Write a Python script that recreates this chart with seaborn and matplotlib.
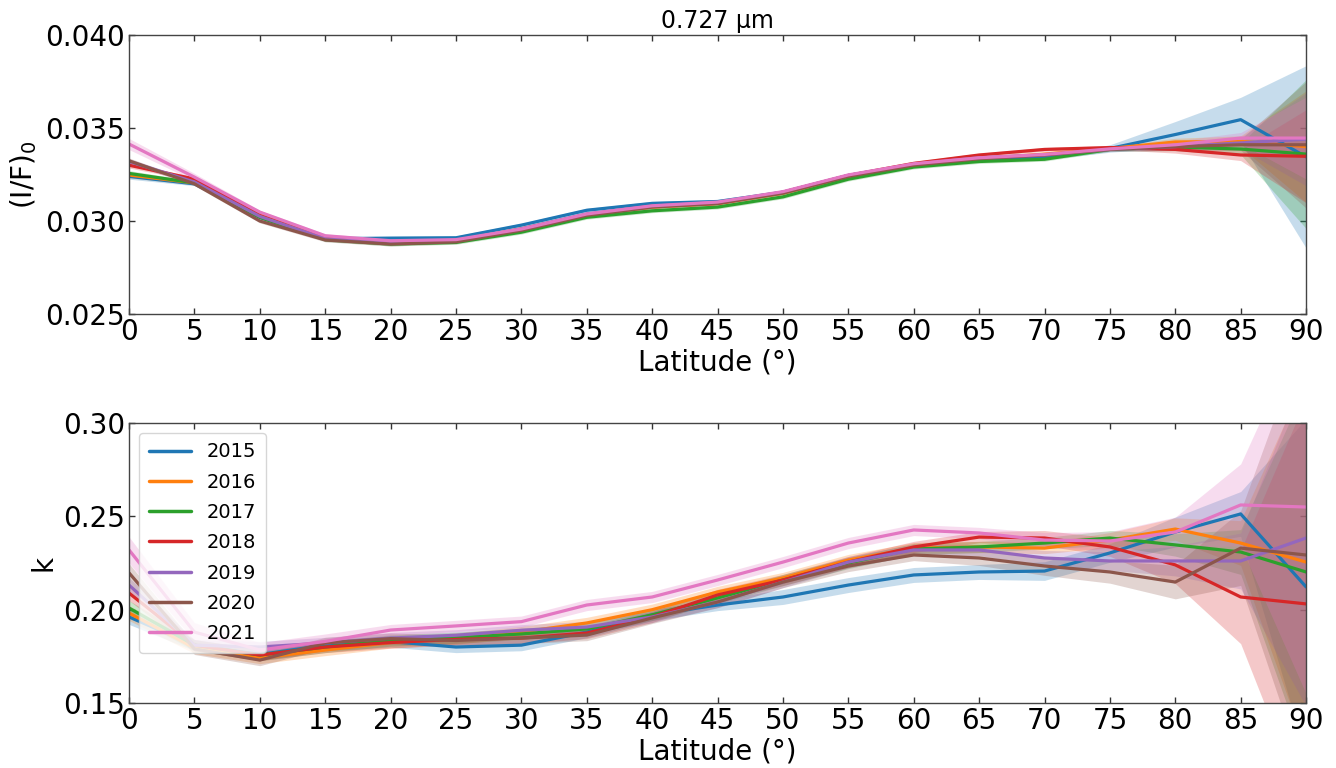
import numpy as np
import pandas as pd
import matplotlib
matplotlib.use("Agg")
import matplotlib.pyplot as plt
import seaborn as sns

latitude = list(range(0, 95, 5))
years = ["2015", "2016", "2017", "2018", "2019", "2020", "2021"]

# (I/F)_0 at 0.727 um
if_2015 = [0.03240, 0.03200, 0.03020, 0.02905, 0.02908, 0.02910, 0.02978, 0.03058, 0.03095, 0.03105, 0.03155, 0.03245, 0.03305, 0.03335, 0.03340, 0.03390, 0.03465, 0.03545, 0.03345]
if_2016 = [0.03247, 0.03205, 0.03045, 0.02910, 0.02885, 0.02893, 0.02958, 0.03035, 0.03075, 0.03095, 0.03150, 0.03240, 0.03300, 0.03335, 0.03360, 0.03390, 0.03425, 0.03428, 0.03400]
if_2017 = [0.03256, 0.03205, 0.03020, 0.02900, 0.02876, 0.02885, 0.02940, 0.03020, 0.03055, 0.03075, 0.03130, 0.03225, 0.03290, 0.03320, 0.03332, 0.03385, 0.03398, 0.03387, 0.03360]
if_2018 = [0.03300, 0.03226, 0.03030, 0.02905, 0.02885, 0.02893, 0.02955, 0.03035, 0.03080, 0.03095, 0.03155, 0.03245, 0.03310, 0.03355, 0.03385, 0.03395, 0.03385, 0.03355, 0.03348]
if_2019 = [0.03320, 0.03210, 0.03025, 0.02905, 0.02885, 0.02893, 0.02958, 0.03038, 0.03080, 0.03100, 0.03155, 0.03245, 0.03305, 0.03340, 0.03355, 0.03385, 0.03400, 0.03420, 0.03440]
if_2020 = [0.03324, 0.03200, 0.03000, 0.02898, 0.02876, 0.02888, 0.02950, 0.03030, 0.03075, 0.03095, 0.03150, 0.03240, 0.03300, 0.03335, 0.03355, 0.03385, 0.03400, 0.03410, 0.03410]
if_2021 = [0.03414, 0.03236, 0.03048, 0.02921, 0.02894, 0.02900, 0.02957, 0.03038, 0.03082, 0.03102, 0.03158, 0.03248, 0.03308, 0.03340, 0.03358, 0.03388, 0.03410, 0.03446, 0.03446]

if_err_2015 = [0.00015, 0.0001, 0.0001, 0.0001, 0.0001, 0.0001, 0.0001, 0.0001, 0.0001, 0.0001, 0.0001, 0.0001, 0.0001, 0.0001, 0.0001, 0.0002, 0.0007, 0.0012, 0.0049]
if_err_2016 = [0.00015, 0.0001, 0.0001, 0.0001, 0.0001, 0.0001, 0.0001, 0.0001, 0.0001, 0.0001, 0.0001, 0.0001, 0.0001, 0.0001, 0.0001, 0.0001, 0.0002, 0.0003, 0.0030]
if_err_2017 = [0.00015, 0.0001, 0.0001, 0.0001, 0.0001, 0.0001, 0.0001, 0.0001, 0.0001, 0.0001, 0.0001, 0.0001, 0.0001, 0.0001, 0.0001, 0.0001, 0.0002, 0.0003, 0.0040]
if_err_2018 = [0.00015, 0.0001, 0.0001, 0.0001, 0.0001, 0.0001, 0.0001, 0.0001, 0.0001, 0.0001, 0.0001, 0.0001, 0.0001, 0.0001, 0.0001, 0.0001, 0.0002, 0.0003, 0.0025]
if_err_2019 = [0.00015, 0.0001, 0.0001, 0.0001, 0.0001, 0.0001, 0.0001, 0.0001, 0.0001, 0.0001, 0.0001, 0.0001, 0.0001, 0.0001, 0.0001, 0.0001, 0.0002, 0.0003, 0.0025]
if_err_2020 = [0.00015, 0.0001, 0.0001, 0.0001, 0.0001, 0.0001, 0.0001, 0.0001, 0.0001, 0.0001, 0.0001, 0.0001, 0.0001, 0.0001, 0.0001, 0.0001, 0.0002, 0.0003, 0.0034]
if_err_2021 = [0.00030, 0.0002, 0.0001, 0.0001, 0.0001, 0.0001, 0.0001, 0.0001, 0.0001, 0.0001, 0.0001, 0.0001, 0.0001, 0.0001, 0.0001, 0.0001, 0.0002, 0.0003, 0.0022]

# k
k_2015 = [0.1961, 0.1810, 0.1760, 0.1810, 0.1829, 0.1800, 0.1810, 0.1880, 0.1972, 0.2025, 0.2068, 0.2132, 0.2186, 0.2202, 0.2207, 0.2304, 0.2416, 0.2513, 0.2122]
k_2016 = [0.1982, 0.1795, 0.1741, 0.1784, 0.1824, 0.1845, 0.1880, 0.1929, 0.2000, 0.2095, 0.2170, 0.2266, 0.2330, 0.2336, 0.2330, 0.2373, 0.2432, 0.2357, 0.2255]
k_2017 = [0.2009, 0.1810, 0.1757, 0.1800, 0.1835, 0.1850, 0.1870, 0.1897, 0.1972, 0.2063, 0.2159, 0.2250, 0.2325, 0.2336, 0.2357, 0.2384, 0.2347, 0.2309, 0.2202]
k_2018 = [0.2089, 0.1810, 0.1757, 0.1800, 0.1824, 0.1841, 0.1848, 0.1875, 0.1961, 0.2079, 0.2159, 0.2255, 0.2336, 0.2389, 0.2384, 0.2336, 0.2240, 0.2068, 0.2031]
k_2019 = [0.2132, 0.1810, 0.1800, 0.1822, 0.1848, 0.1863, 0.1890, 0.1907, 0.1961, 0.2041, 0.2148, 0.2255, 0.2320, 0.2320, 0.2277, 0.2261, 0.2261, 0.2261, 0.2384]
k_2020 = [0.2197, 0.1790, 0.1730, 0.1822, 0.1845, 0.1835, 0.1848, 0.1864, 0.1956, 0.2041, 0.2148, 0.2234, 0.2293, 0.2277, 0.2234, 0.2202, 0.2148, 0.2330, 0.2293]
k_2021 = [0.2320, 0.1880, 0.1784, 0.1830, 0.1891, 0.1913, 0.1936, 0.2025, 0.2068, 0.2159, 0.2255, 0.2357, 0.2427, 0.2411, 0.2373, 0.2368, 0.2416, 0.2561, 0.2550]

k_err_2015 = [0.004, 0.003, 0.003, 0.003, 0.003, 0.003, 0.003, 0.003, 0.003, 0.003, 0.004, 0.004, 0.004, 0.004, 0.005, 0.005, 0.008, 0.012, 0.090]
k_err_2016 = [0.004, 0.003, 0.003, 0.003, 0.003, 0.003, 0.003, 0.003, 0.003, 0.003, 0.003, 0.003, 0.003, 0.003, 0.003, 0.004, 0.006, 0.012, 0.100]
k_err_2017 = [0.004, 0.003, 0.003, 0.003, 0.003, 0.003, 0.003, 0.003, 0.003, 0.003, 0.003, 0.003, 0.003, 0.003, 0.003, 0.004, 0.006, 0.012, 0.100]
k_err_2018 = [0.004, 0.003, 0.003, 0.003, 0.003, 0.003, 0.003, 0.003, 0.003, 0.003, 0.003, 0.003, 0.003, 0.003, 0.004, 0.005, 0.010, 0.025, 0.110]
k_err_2019 = [0.004, 0.003, 0.003, 0.003, 0.003, 0.003, 0.003, 0.003, 0.003, 0.003, 0.003, 0.003, 0.003, 0.003, 0.004, 0.005, 0.008, 0.015, 0.090]
k_err_2020 = [0.005, 0.003, 0.003, 0.003, 0.003, 0.003, 0.003, 0.003, 0.003, 0.003, 0.003, 0.003, 0.003, 0.004, 0.005, 0.006, 0.009, 0.020, 0.120]
k_err_2021 = [0.007, 0.005, 0.004, 0.004, 0.003, 0.003, 0.003, 0.003, 0.003, 0.003, 0.003, 0.003, 0.003, 0.003, 0.004, 0.005, 0.008, 0.022, 0.100]

if_vals = [if_2015, if_2016, if_2017, if_2018, if_2019, if_2020, if_2021]
if_errs = [if_err_2015, if_err_2016, if_err_2017, if_err_2018, if_err_2019, if_err_2020, if_err_2021]
k_vals = [k_2015, k_2016, k_2017, k_2018, k_2019, k_2020, k_2021]
k_errs = [k_err_2015, k_err_2016, k_err_2017, k_err_2018, k_err_2019, k_err_2020, k_err_2021]

sns.set_style("ticks")
plt.rcParams['font.family'] = ['DejaVu Sans']
plt.rcParams['text.color'] = 'black'
plt.rcParams['axes.labelcolor'] = 'black'
plt.rcParams['xtick.color'] = '#333333'
plt.rcParams['ytick.color'] = '#333333'

colors = sns.color_palette("tab10", 7)
palette = dict(zip(years, colors))

def long_df(vals):
    rows = []
    for y, v in zip(years, vals):
        for la, vv in zip(latitude, v):
            rows.append({"lat": la, "val": vv, "year": y})
    return pd.DataFrame(rows)

fig = plt.figure(figsize=(13.36, 7.68), dpi=100)
ax1 = fig.add_axes([0.0966, 0.5911, 0.881, 0.3633])
ax2 = fig.add_axes([0.0966, 0.0846, 0.881, 0.3646])

for ax, vals, errs in [(ax1, if_vals, if_errs), (ax2, k_vals, k_errs)]:
    for y, v, e in zip(years, vals, errs):
        v = np.array(v); e = np.array(e)
        ax.fill_between(latitude, v - e, v + e, color=palette[y], alpha=0.25, linewidth=0)
    sns.lineplot(data=long_df(vals), x="lat", y="val", hue="year", palette=palette,
                 errorbar=None, linewidth=2.3, ax=ax, legend=(ax is ax2))

ax1.set_ylim(0.025, 0.040)
ax1.set_yticks([0.025, 0.030, 0.035, 0.040])
ax1.set_yticklabels(["0.025", "0.030", "0.035", "0.040"])
ax1.set_ylabel("(I/F)$_0$", fontsize=20, color="black")
ax1.set_title("0.727 µm", fontsize=17, pad=5, color="black")

ax2.set_ylim(0.15, 0.30)
ax2.set_yticks([0.15, 0.20, 0.25, 0.30])
ax2.set_yticklabels(["0.15", "0.20", "0.25", "0.30"])
ax2.set_ylabel("k", fontsize=20, color="black")

for ax in (ax1, ax2):
    ax.set_xlim(0, 90)
    ax.set_xticks(latitude)
    ax.set_xlabel("Latitude (°)", fontsize=20, labelpad=2, color="black")
    ax.tick_params(direction="in", top=True, right=True, length=4, width=1,
                   labelsize=20, colors="#333333", labelcolor="black", pad=3)
    for s in ax.spines.values():
        s.set_color("#444444")
        s.set_linewidth(1.0)

leg = ax2.legend(loc="upper left", fontsize=14, frameon=True, framealpha=0.8,
                 borderpad=0.5, labelspacing=0.58, handlelength=2.2)
for line in leg.get_lines():
    line.set_linewidth(2.5)
for t in leg.get_texts():
    t.set_color("black")
leg.set_title(None)

fig.savefig("out.png", dpi=100)
